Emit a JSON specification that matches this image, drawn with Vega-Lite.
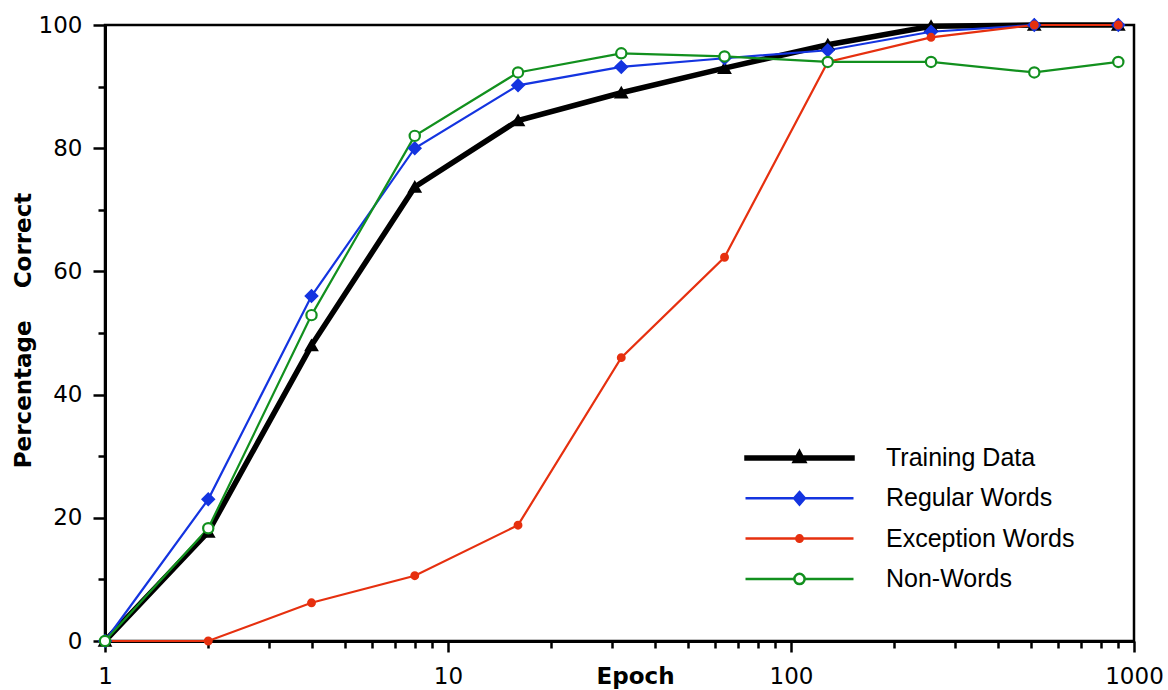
{
  "$schema": "https://vega.github.io/schema/vega-lite/v6.json",
  "autosize": "none",
  "width": 1029,
  "height": 616,
  "padding": {"left": 105, "top": 25, "right": 34, "bottom": 49},
  "background": "white",
  "config": {
    "view": {"stroke": "black", "strokeWidth": 2.5},
    "axis": {
      "grid": false,
      "domainColor": "black",
      "domainWidth": 3,
      "tickColor": "black",
      "tickWidth": 2.5,
      "labelFont": "DejaVu Sans",
      "labelFontSize": 23,
      "labelColor": "black",
      "labelOverlap": false,
      "labelFlush": false,
      "titleFont": "DejaVu Sans",
      "titleFontSize": 23,
      "titleFontWeight": "bold",
      "titleColor": "black"
    },
    "legend": {
      "title": null,
      "orient": "none",
      "legendX": 639,
      "legendY": 420.5,
      "padding": 0,
      "symbolSize": 11664,
      "symbolStrokeWidth": 2.5,
      "symbolOpacity": 1,
      "clipHeight": 25,
      "rowPadding": 14.3,
      "labelOffset": 31,
      "labelFont": "Liberation Sans",
      "labelFontSize": 25,
      "labelColor": "black",
      "labelLimit": 400
    }
  },
  "data": {
    "values": [
      {"series": "Training Data", "epoch": 1, "pct": 0},
      {"series": "Training Data", "epoch": 2, "pct": 17.7},
      {"series": "Training Data", "epoch": 4, "pct": 48},
      {"series": "Training Data", "epoch": 8, "pct": 73.7},
      {"series": "Training Data", "epoch": 16, "pct": 84.5},
      {"series": "Training Data", "epoch": 32, "pct": 89},
      {"series": "Training Data", "epoch": 64, "pct": 93},
      {"series": "Training Data", "epoch": 128, "pct": 96.8},
      {"series": "Training Data", "epoch": 256, "pct": 99.8},
      {"series": "Training Data", "epoch": 512, "pct": 100},
      {"series": "Training Data", "epoch": 900, "pct": 100},
      {"series": "Regular Words", "epoch": 1, "pct": 0},
      {"series": "Regular Words", "epoch": 2, "pct": 23},
      {"series": "Regular Words", "epoch": 4, "pct": 56},
      {"series": "Regular Words", "epoch": 8, "pct": 80},
      {"series": "Regular Words", "epoch": 16, "pct": 90.2},
      {"series": "Regular Words", "epoch": 32, "pct": 93.2},
      {"series": "Regular Words", "epoch": 64, "pct": 94.6},
      {"series": "Regular Words", "epoch": 128, "pct": 95.9},
      {"series": "Regular Words", "epoch": 256, "pct": 98.9},
      {"series": "Regular Words", "epoch": 512, "pct": 100},
      {"series": "Regular Words", "epoch": 900, "pct": 100},
      {"series": "Exception Words", "epoch": 1, "pct": 0},
      {"series": "Exception Words", "epoch": 2, "pct": 0},
      {"series": "Exception Words", "epoch": 4, "pct": 6.2},
      {"series": "Exception Words", "epoch": 8, "pct": 10.6},
      {"series": "Exception Words", "epoch": 16, "pct": 18.8},
      {"series": "Exception Words", "epoch": 32, "pct": 46},
      {"series": "Exception Words", "epoch": 64, "pct": 62.3},
      {"series": "Exception Words", "epoch": 128, "pct": 94},
      {"series": "Exception Words", "epoch": 256, "pct": 98},
      {"series": "Exception Words", "epoch": 512, "pct": 100},
      {"series": "Exception Words", "epoch": 900, "pct": 100},
      {"series": "Non-Words", "epoch": 1, "pct": 0},
      {"series": "Non-Words", "epoch": 2, "pct": 18.3},
      {"series": "Non-Words", "epoch": 4, "pct": 52.9},
      {"series": "Non-Words", "epoch": 8, "pct": 82},
      {"series": "Non-Words", "epoch": 16, "pct": 92.3},
      {"series": "Non-Words", "epoch": 32, "pct": 95.4},
      {"series": "Non-Words", "epoch": 64, "pct": 94.9},
      {"series": "Non-Words", "epoch": 128, "pct": 94},
      {"series": "Non-Words", "epoch": 256, "pct": 94},
      {"series": "Non-Words", "epoch": 512, "pct": 92.3},
      {"series": "Non-Words", "epoch": 900, "pct": 94}
    ]
  },
  "encoding": {
    "x": {
      "field": "epoch",
      "type": "quantitative",
      "scale": {"type": "log", "domain": [1, 1000], "nice": false},
      "axis": {
        "title": "Epoch",
        "titleX": 530,
        "titleY": 42,
        "titleBaseline": "alphabetic",
        "values": [1, 2, 3, 4, 5, 6, 7, 8, 9, 10, 20, 30, 40, 50, 60, 70, 80, 90, 100, 200, 300, 400, 500, 600, 700, 800, 900, 1000],
        "labelExpr": "indexof([1, 10, 100, 1000], datum.value) >= 0 ? format(datum.value, 'd') : ''",
        "tickSize": {"condition": {"test": "indexof([1, 10, 100, 1000], datum.value) >= 0", "value": 11}, "value": 7},
        "labelPadding": 13
      }
    },
    "y": {
      "field": "pct",
      "type": "quantitative",
      "scale": {"domain": [0, 100], "nice": false},
      "axis": {
        "title": "Percentage\u00a0\u00a0\u00a0\u00a0Correct",
        "titleAngle": 270,
        "titleX": -82,
        "titleY": 305,
        "titleAlign": "center",
        "titleBaseline": "middle",
        "values": [0, 10, 20, 30, 40, 50, 60, 70, 80, 90, 100],
        "labelExpr": "datum.value % 20 === 0 ? datum.label : ''",
        "tickSize": {"condition": {"test": "datum.value % 20 === 0", "value": 12}, "value": 7},
        "labelPadding": 11
      }
    }
  },
  "layer": [
    {
      "mark": {"type": "line", "strokeJoin": "miter"},
      "encoding": {
        "detail": {"field": "series", "type": "nominal"},
        "stroke": {
          "condition": [
            {"test": "datum.series === 'Training Data'", "value": "#000000"},
            {"test": "datum.series === 'Regular Words'", "value": "#1434e0"},
            {"test": "datum.series === 'Exception Words'", "value": "#e6300f"}
          ],
          "value": "#12901e"
        },
        "strokeWidth": {
          "condition": {"test": "datum.series === 'Training Data'", "value": 5.5},
          "value": 2.2
        }
      }
    },
    {
      "mark": {"type": "point", "filled": true, "strokeWidth": 2.2, "opacity": 1},
      "encoding": {
        "stroke": {
          "condition": [
            {"test": "datum.series === 'Training Data'", "value": "#000000"},
            {"test": "datum.series === 'Regular Words'", "value": "#1434e0"},
            {"test": "datum.series === 'Exception Words'", "value": "#e6300f"}
          ],
          "value": "#12901e"
        },
        "fill": {
          "condition": [
            {"test": "datum.series === 'Training Data'", "value": "#000000"},
            {"test": "datum.series === 'Regular Words'", "value": "#1434e0"},
            {"test": "datum.series === 'Exception Words'", "value": "#e6300f"}
          ],
          "value": "#ffffff"
        },
        "shape": {
          "condition": [
            {"test": "datum.series === 'Training Data'", "value": "triangle-up"},
            {"test": "datum.series === 'Regular Words'", "value": "diamond"}
          ],
          "value": "circle"
        },
        "size": {
          "condition": [
            {"test": "datum.series === 'Training Data'", "value": 120},
            {"test": "datum.series === 'Regular Words'", "value": 130},
            {"test": "datum.series === 'Exception Words'", "value": 45}
          ],
          "value": 105
        }
      }
    },
    {
      "mark": {"type": "point", "filled": true, "opacity": 0},
      "encoding": {
        "stroke": {
          "field": "series",
          "type": "nominal",
          "scale": {
            "domain": ["Training Data", "Regular Words", "Exception Words", "Non-Words"],
            "range": ["#000000", "#1434e0", "#e6300f", "#12901e"]
          }
        },
        "fill": {
          "field": "series",
          "type": "nominal",
          "scale": {
            "domain": ["Training Data", "Regular Words", "Exception Words", "Non-Words"],
            "range": ["#000000", "#1434e0", "#e6300f", "#ffffff"]
          }
        },
        "shape": {
          "field": "series",
          "type": "nominal",
          "scale": {
            "domain": ["Training Data", "Regular Words", "Exception Words", "Non-Words"],
            "range": [
              "M-1,-0.026H1V0.026H-1ZM0,-0.13L0.11,0.075L-0.11,0.075Z",
              "M-1,0H1M0,-0.115L0.1,0L0,0.115L-0.1,0Z",
              "M-1,0H1M-0.06,0A0.06,0.06,0,1,0,0.06,0A0.06,0.06,0,1,0,-0.06,0Z",
              "M-1,0H-0.095M0.095,0H1M-0.095,0A0.095,0.095,0,1,0,0.095,0A0.095,0.095,0,1,0,-0.095,0Z"
            ]
          }
        }
      }
    }
  ]
}
